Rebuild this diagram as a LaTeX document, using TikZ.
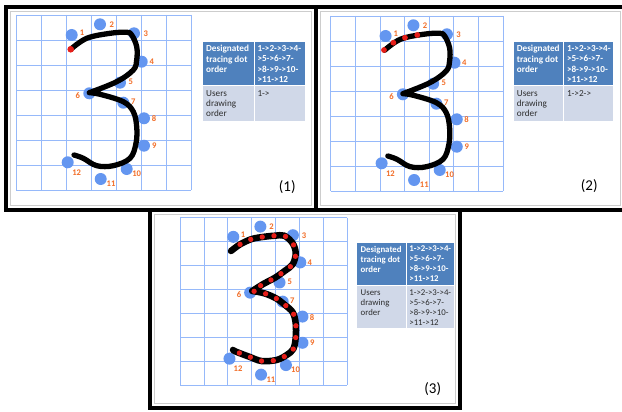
\documentclass[tikz,border=0pt]{standalone}
\usepackage{fontspec}
\setmainfont{Carlito}
\definecolor{gridblue}{RGB}{150,185,250}
\definecolor{dotblue}{RGB}{100,150,240}
\definecolor{lblorange}{RGB}{242,110,40}
\definecolor{hdrblue}{RGB}{79,129,189}
\definecolor{rowgray}{RGB}{208,216,232}
\definecolor{reddot}{RGB}{230,30,25}
\definecolor{innergray}{RGB}{205,205,205}
\definecolor{txtdark}{RGB}{45,45,45}
\tikzset{
  gridline/.style={gridblue, line width=0.8pt},
  bdot/.style={circle, fill=dotblue, minimum size=12pt, inner sep=0pt},
  lbl/.style={text=lblorange, font=\fontsize{8.6}{9}\selectfont\bfseries, inner sep=0pt},
  stroke/.style={black, line width=5.3pt, line cap=round, line join=round},
  rdot/.style={circle, fill=reddot, minimum size=5.8pt, inner sep=0pt},
  frameblack/.style={black, line width=4pt},
  frameinner/.style={innergray, line width=0.8pt},
  hdrtxt/.style={text=white, font=\fontsize{9.2}{10.3}\selectfont\bfseries, align=left, anchor=north west, inner sep=0pt},
  rowtxt/.style={text=txtdark, font=\fontsize{9.2}{10.3}\selectfont, align=left, anchor=north west, inner sep=0pt},
  hdrtxtc/.style={hdrtxt, font=\fontsize{8.8}{10}\selectfont\bfseries},
  rowtxtc/.style={rowtxt, font=\fontsize{8.8}{10}\selectfont},
  paneltxt/.style={font=\fontsize{15}{18}\selectfont, inner sep=0pt},
}
\newcommand{\dotgrid}[1]{%
  \foreach \k in {0,...,7} {
    \draw[gridline] (25*\k,0) -- (25*\k,175);
    \draw[gridline] (0,25*\k) -- (175,25*\k);
  }
  \foreach \i/\x/\y in {1/55.7/20, 2/84/9.3, 3/118/18.3, 4/125.7/46.7, 5/104/67.7, 6/73.3/78.3,
      7/107.3/87.7, 8/128/103.3, 9/128/130.7, 10/110.7/154, 11/84.7/164, 12/51.7/147.3} {
    \node[bdot] (#1d\i) at (\x,\y) {};
  }
  \foreach \i/\x/\y in {1/66/17.7, 2/95.7/9.3, 3/129.7/19, 4/135.7/46.7, 5/114.7/66.7, 6/61.7/80.7,
      7/117.3/86.7, 8/138/104, 9/138.3/131, 10/120.7/159, 11/95/169, 12/60.7/157.3} {
    \node[lbl] (#1l\i) at (\x,\y) {\i};
  }
}
\newcommand{\curveone}[1]{%
  \draw[#1] plot[smooth, tension=0.6] coordinates {(54.7,34.3) (70.7,23.3) (94,18.3) (110.7,17.3)
      (115.7,20) (120.7,31.7) (120.7,45) (117.3,55) (100.7,66.7) (73.3,77.7)}
    -- plot[smooth, tension=0.6] coordinates {(73.3,77.7) (84,79.3) (107.3,86.7) (117.3,96.7)
      (120.7,111.7) (120,128.3) (114,143.3) (97.3,150.7) (80.7,150.7) (67.3,143.3) (58,140)};
}
\newcommand{\curvethree}[1]{%
  \draw[#1] plot[smooth, tension=0.55] coordinates {(53.3,34.8) (62.7,27.9) (74.9,22.3) (88.1,19.9)
      (99.3,18.8) (109,18.8) (117.8,26.8) (120.9,37.2) (117.8,48.7) (109.7,55.4) (99.3,62.7)
      (87,69.3) (75.5,76.6)}
    -- plot[smooth, tension=0.55] coordinates {(75.5,76.6) (88.1,79) (100.3,84.2) (109.7,91.2)
      (117.8,98.9) (120.9,110.4) (120.9,125.4) (118.4,137.2) (111.5,143.5) (101,148.7)
      (85.4,149.8) (72.4,145.3) (58.5,140) (55.4,138.2)};
}
\begin{document}
\begin{tikzpicture}[x=1pt, y=-1pt]
\useasboundingbox (0,0) rectangle (622,412);
\fill[white] (0,0) rectangle (622,412);
% frames
\draw[frameinner] (10.5,11.5) rectangle (311.5,205.5);
\draw[frameinner] (320.5,11.5) rectangle (620,205.5);
\draw[frameinner] (154.5,214.5) rectangle (455.5,403.5);
\draw[frameblack] (6,7) rectangle (316,210);
\draw[frameblack] (316,7) rectangle (624.5,210);
\draw[frameblack] (150,210) rectangle (460,408);
% panel 1
\begin{scope}[shift={(16,15)}]
  \dotgrid{A}
  \curveone{stroke}
  \node[rdot, minimum size=6.6pt] (Ar1) at (54.7,34.3) {};
\end{scope}
% panel 2
\begin{scope}[shift={(330.7,16)}, xscale=0.985]
  \dotgrid{B}
  \curveone{stroke}
  \node[rdot] (Br1) at (54.1,34) {};
  \node[rdot] (Br2) at (63.6,26.7) {};
  \node[rdot] (Br3) at (75.4,21.7) {};
  \node[rdot] (Br4) at (87.9,19) {};
\end{scope}
% panel 3
\begin{scope}[shift={(180,217.7)}, scale=0.957]
  \dotgrid{C}
  \curvethree{stroke, line width=6.5pt}
  \curvethree{reddot, line width=5.3pt, line cap=round, dash pattern=on 0pt off 11.8pt, dash phase=0.6pt}
\end{scope}
% table 1
\fill[hdrblue] (202.7,41.7) rectangle (305,86);
\fill[rowgray] (202.7,86) rectangle (305,120.7);
\draw[white, line width=1pt] (254,41.7) -- (254,120.7) (202.7,86) -- (305,86);
\node[hdrtxt] (At1) at (206,45.2) {Designated\\tracing dot\\order};
\node[hdrtxt] (At2) at (257.3,45.2) {1->2->3->4-\\>5->6->7-\\>8->9->10-\\>11->12};
\node[rowtxt] (At3) at (206,90.2) {Users\\drawing\\order};
\node[rowtxt] (At4) at (257.3,90.2) {1->};
% table 2
\fill[hdrblue] (514,41.7) rectangle (613.3,86);
\fill[rowgray] (514,86) rectangle (613.3,120.7);
\draw[white, line width=1pt] (563.3,41.7) -- (563.3,120.7) (514,86) -- (613.3,86);
\node[hdrtxt] (Bt1) at (516.7,45.2) {Designated\\tracing dot\\order};
\node[hdrtxt] (Bt2) at (566.8,45.2) {1->2->3->4-\\>5->6->7-\\>8->9->10-\\>11->12};
\node[rowtxt] (Bt3) at (516.7,90.2) {Users\\drawing\\order};
\node[rowtxt] (Bt4) at (566.8,90.2) {1->2->};
% table 3
\fill[hdrblue] (357.3,242.7) rectangle (454,285);
\fill[rowgray] (357.3,285) rectangle (454,328.3);
\draw[white, line width=1pt] (406,242.7) -- (406,328.3) (357.3,285) -- (454,285);
\node[hdrtxtc] (Ct1) at (360.5,246) {Designated\\tracing dot\\order};
\node[hdrtxtc] (Ct2) at (409.2,246) {1->2->3->4-\\>5->6->7-\\>8->9->10-\\>11->12};
\node[rowtxtc] (Ct3) at (360.5,289.3) {Users\\drawing\\order};
\node[rowtxtc] (Ct4) at (409.2,289.3) {1->2->3->4-\\>5->6->7-\\>8->9->10-\\>11->12};
% panel labels
\node[paneltxt] (Ap) at (287.3,187.3) {(1)};
\node[paneltxt] (Bp) at (589.3,185.7) {(2)};
\node[paneltxt] (Cp) at (432.7,389) {(3)};
\end{tikzpicture}
\end{document}
